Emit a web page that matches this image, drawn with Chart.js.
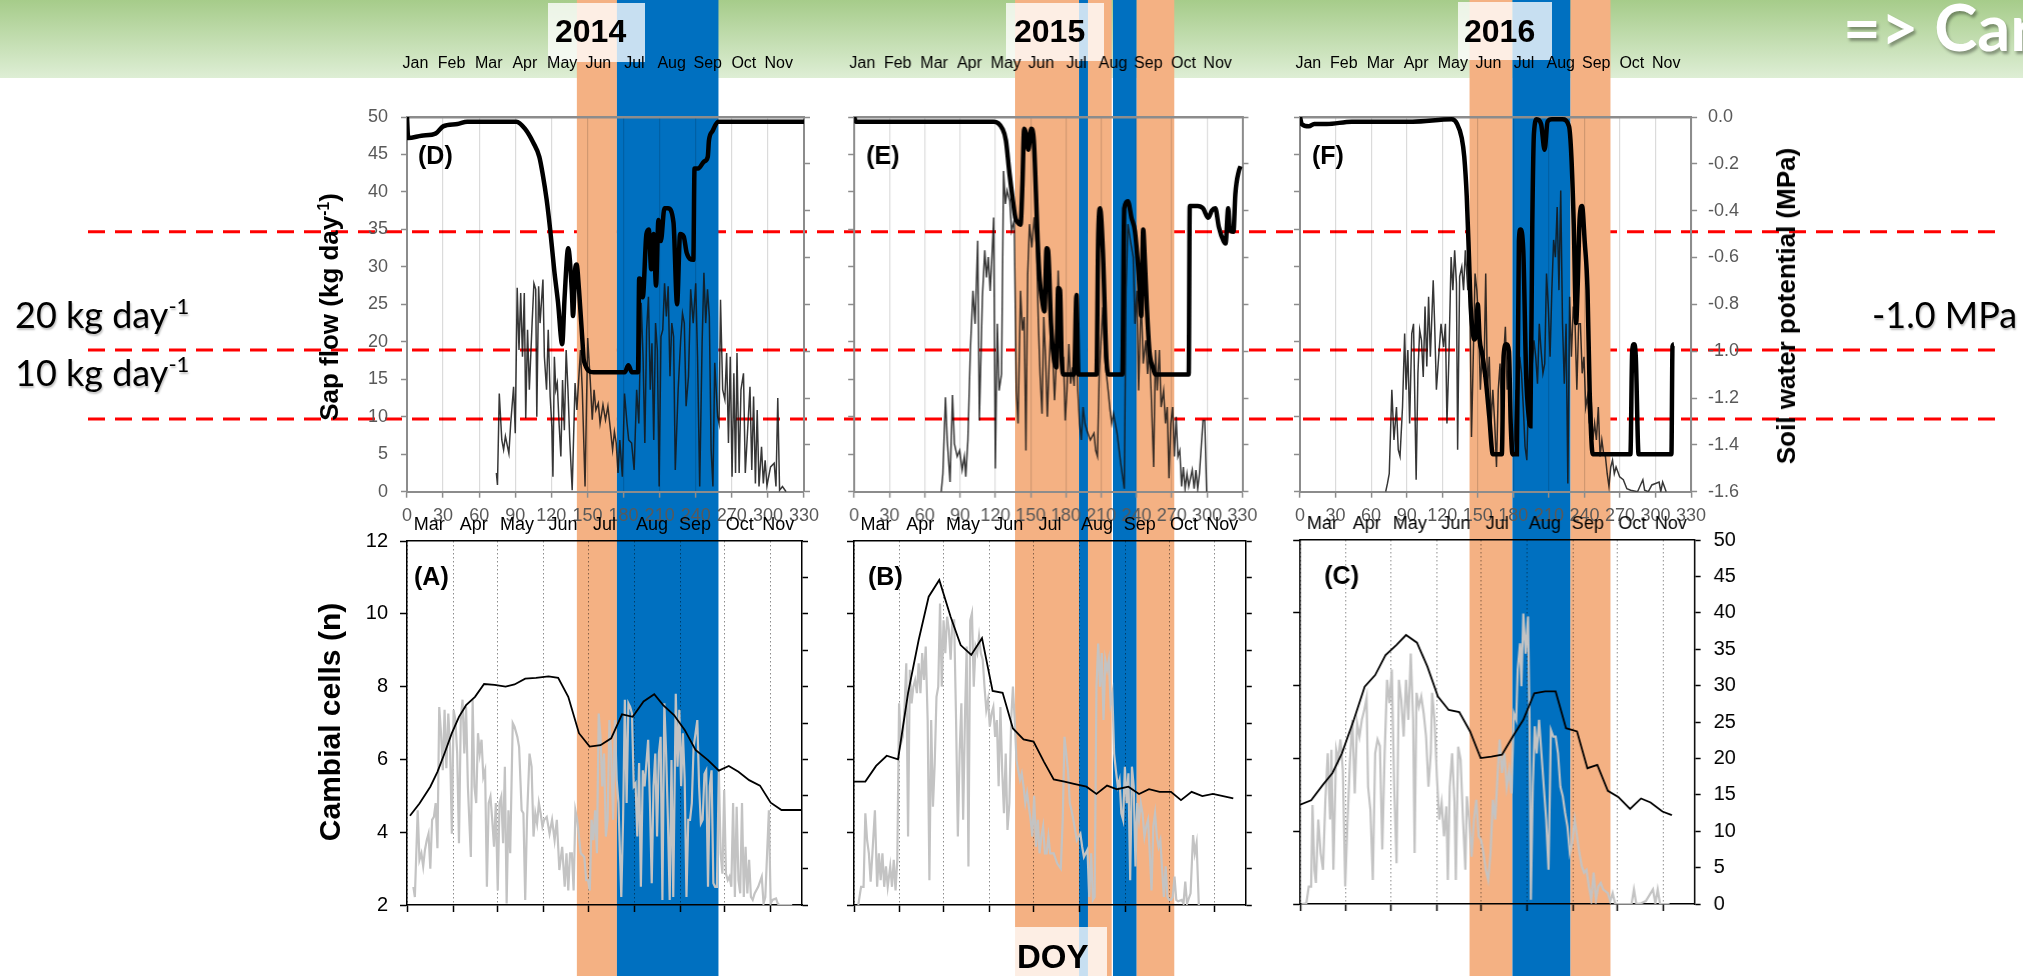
<!DOCTYPE html>
<html>
<head>
<meta charset="utf-8">
<script src="https://cdn.jsdelivr.net/npm/chart.js@4.4.0/dist/chart.umd.min.js"></script>
<style>
html, body { margin: 0; padding: 0; background: #fff; }
#page { position: relative; width: 2023px; height: 976px; overflow: hidden; font-family: "Liberation Sans", Arial, sans-serif; }
#banner { position: absolute; left: 0; top: 0; width: 2023px; height: 78px; background: linear-gradient(#a6cc8a, #deeed5); z-index: 0; }
#deco { position: absolute; left: 0; top: 0; z-index: 1; }
.box { position: absolute; background: rgba(255,255,255,0.78); z-index: 2; }
.plot { position: absolute; z-index: 3; }
.txt { position: absolute; z-index: 4; white-space: nowrap; line-height: 1; }
.rot { position: absolute; z-index: 4; white-space: nowrap; line-height: 1; font-weight: bold; transform: translate(-50%, -50%) rotate(-90deg); }
.cal { font-family: Lato, "Noto Sans", sans-serif; font-size: 36px; color: #000; text-shadow: 1px 2px 2px rgba(0,0,0,0.25); }
.cal sup { font-size: 22px; vertical-align: 14px; }
.rot sup { font-size: 60%; vertical-align: 0.55em; }
</style>
</head>
<body>
<div id="page">
  <div id="banner"></div>
  <canvas id="deco" width="2023" height="976"></canvas>

  <div class="box" style="left:548px;top:3px;width:97px;height:59px"></div>
  <div class="box" style="left:1006px;top:3px;width:98px;height:58px"></div>
  <div class="box" style="left:1458px;top:2px;width:94px;height:58px"></div>
  <div class="box" style="left:1015px;top:927px;width:92px;height:49px"></div>

  <div class="txt" style="left:555px;top:15px;font-size:32px;font-weight:bold">2014</div>
  <div class="txt" style="left:1014px;top:15px;font-size:32px;font-weight:bold">2015</div>
  <div class="txt" style="left:1464px;top:15px;font-size:32px;font-weight:bold">2016</div>
  <div class="txt" style="left:1017px;top:940px;font-size:33px;font-weight:bold">DOY</div>

  <div class="txt" style="left:1843px;top:-6px;font-family:Lato,sans-serif;font-weight:bold;font-size:65px;color:#fff;text-shadow:2px 3px 3px rgba(0,0,0,0.35)">=&gt; Car</div>

  <div class="txt cal" style="left:15px;top:295px">20 kg day<sup>-1</sup></div>
  <div class="txt cal" style="left:15px;top:353px">10 kg day<sup>-1</sup></div>
  <div class="txt cal" style="left:1872px;top:296px">-1.0 MPa</div>

  <div class="rot" style="left:329px;top:307px;font-size:26px">Sap flow (kg day<sup>-1</sup>)</div>
  <div class="rot" style="left:1786px;top:306px;font-size:26px">Soil water potential (MPa)</div>
  <div class="rot" style="left:330px;top:722px;font-size:30px">Cambial cells (n)</div>
</div>

<script>
// axis ticks and labels
const doyTicks = [0, 30, 60, 90, 120, 150, 180, 210, 240, 270, 300, 330];
const sapTicks = [0, 5, 10, 15, 20, 25, 30, 35, 40, 45, 50];
const swpTicks = [-1.6, -1.4, -1.2, -1.0, -0.8, -0.6, -0.4, -0.2, 0];
const cellTicks = [2, 4, 6, 8, 10, 12];
const bannerMonths = ["Jan", "Feb", "Mar", "Apr", "May", "Jun", "Jul", "Aug", "Sep", "Oct", "Nov"];
const bannerMonthDoy = [7, 37, 68, 98, 129, 159, 189, 220, 250, 280, 309];
const lowMonths = ["Mar", "Apr", "May", "Jun", "Jul", "Aug", "Sep", "Oct", "Nov"];
const lowMonthDoy = [75, 105, 134, 165, 193, 225, 254, 284, 310];
const monthStartDoy = [60, 91, 121, 152, 182, 213, 244, 274, 305];

// thresholds (sap flow units), red dashed lines
const thresholdSap = [34.7, 18.9, 9.7];

// dry (orange) and wet (blue) periods, DOY
const bands2014 = [[141.2, 174.5, "o"], [174.5, 258.9, "b"]];
const bands2015 = [[136.9, 191.4, "o"], [191.4, 199.0, "b"], [199.0, 219.2, "o"], [220.3, 240.5, "b"], [240.5, 272.5, "o"]];
const bands2016 = [[143.4, 179.6, "o"], [179.6, 228.6, "b"], [228.6, 262.3, "o"]];

// (D) 2014 sap flow [doy, kg/day]
const sap2014 = [[74.3,2.5],[75.2,0.9],[76.7,13.1],[78.8,6.9],[80.3,5.6],[81.8,7.4],[84.7,5.1],[86.2,9.1],[88.6,14],[90,7.8],
[91.6,27.2],[93.1,18.9],[94.5,26.5],[96,18],[97.5,26.5],[98.7,9.8],[100.2,21.6],[101.7,13.6],[104,22.5],[105.5,27.8],
[107,27],[107.9,10],[109.4,27.4],[110.6,22.5],[113,28.3],[114.2,18],[116,13.6],[117.4,21.6],[119,12.7],[120.4,8.7],
[121.3,2],[122.5,18],[123.7,13.6],[124.9,14.5],[126.4,9.1],[127.9,4.7],[129.3,14.9],[130.8,8.2],[132.3,18.9],[133.8,13.6],
[135.3,6.9],[137.3,0.2],[139.7,14.5],[141.2,10.9],[144.2,18.9],[145.7,13.6],[148,0.7],[150.2,20.5],[152.3,14.9],[154,9.6],
[155.5,13.6],[157,10.9],[159,11.8],[160.5,9.1],[162.9,11.6],[165,9.6],[167,11.4],[168.8,8.7],[170.9,5.6],[172.4,8],
[173.9,6.5],[175.4,2.5],[176.9,6.9],[179,2],[180.8,13.1],[182.9,9.1],[184.3,6.9],[186.7,6.5],[188.8,2.9],[190.9,13.6],
[192.7,9.1],[194.7,25.2],[196.2,18],[197.7,6.5],[199.2,21.6],[200.7,26],[202.2,13.6],[203.6,19.8],[205.1,6.9],[206.6,22.5],
[208.1,18.9],[209.6,0.7],[211.1,20.7],[212.6,21.6],[214.1,27.8],[215.6,23.4],[217.1,27.4],[218.6,15.4],[220.1,22.5],[221.6,20.7],
[223,2.9],[225.4,13.6],[227.5,20.3],[229,23.8],[230.5,22.5],[232,11.4],[234,15.4],[235.8,27],[237.9,22.5],[240,27.8],
[241.5,18],[243.3,0.7],[245.3,19.8],[246.8,29.2],[248.3,22.5],[249.8,27],[251.3,23.4],[252.8,5.6],[254.3,0.7],[255.8,17.2],
[258.2,10],[259.4,9.1],[260.6,25.6],[262.4,13.6],[264.2,12.3],[265.7,18.5],[267.2,6.5],[268.7,18],[270.2,2],[271.7,15.8],
[273.1,2.5],[274.3,18.5],[276.1,2.5],[277.6,13.6],[279.7,15.8],[281.2,2.5],[282.7,6.9],[285.1,14],[286.6,2.9],[288.1,12.7],
[289.6,1.1],[291.1,10.9],[292.6,0.7],[294.7,6],[296.2,1.1],[297.7,4.2],[299.2,0.8],[302.2,3.3],[305.2,3.8],[306.7,0.7],
[308.2,12.5],[309.7,0.2],[312.1,0.7],[315.1,0]];

// (D) 2014 soil water potential [doy, MPa]
const swp2014 = [[0,0],[1,-0.09],[12,-0.08],[24,-0.07],[30,-0.04],[42,-0.03],[50,-0.02],[91,-0.02],[98,-0.05],[105,-0.11],
[110,-0.17],[113,-0.25],[116,-0.35],[119,-0.48],[122.5,-0.66],[125.5,-0.79],[129,-0.97],[131,-0.77],[134,-0.56],[137,-0.74],
[138,-0.85],[140,-0.64],[141,-0.63],[143,-0.74],[146,-0.97],[147,-1.04],[155,-1.09],[181,-1.09],[184,-1.06],[187,-1.09],
[192,-1.09],[193,-0.69],[195,-0.70],[196,-0.77],[199,-0.50],[201,-0.48],[203,-0.65],[205,-0.50],[207,-0.72],[209,-0.44],
[211,-0.53],[214,-0.39],[217,-0.39],[221.5,-0.45],[224.5,-0.80],[227,-0.50],[230,-0.51],[232.5,-0.58],[238,-0.61],[239,-0.22],
[242,-0.22],[247,-0.19],[250,-0.17],[251,-0.10],[254,-0.06],[258.6,-0.02],[330,-0.02]];

// (E) 2015 sap flow
const sap2015 = [[74,0],[75.4,2.4],[77.6,12.6],[79.1,6.9],[81.5,1.3],[83.6,12.9],[85.2,6.4],[87.6,4.7],[89.7,5.5],[91.8,2.9],
[93.7,4.7],[94.9,2],[96.7,6.9],[98.8,18.9],[101,26.8],[102.8,22.4],[105,33.5],[106.4,9.5],[109,26],[111,32.2],
[112.5,28.6],[114,31.3],[115.6,26.8],[117.1,31.3],[118.6,36.6],[120,3.1],[121.7,22.4],[123.2,13.5],[125.3,15.7],[127,42.8],
[128.6,38.4],[130,40.2],[132.3,38.8],[133.8,34.8],[136,36.2],[137.8,13.5],[139.3,9.1],[141.4,26.8],[143,21.5],[144.5,23.3],
[146,5.5],[147.5,29],[149,35.7],[151,32.6],[153,36.6],[155,32.6],[156.6,22.4],[158,15.7],[159.7,10.4],[161.2,23.3],
[162.7,18],[164.2,10],[165.7,17.1],[167.3,22.4],[168.8,18],[170.3,12.2],[171.8,17.1],[173.4,29.5],[174.9,22.4],[176.4,15.7],
[177.9,18],[179.4,9.5],[180.9,13.5],[182.5,19.7],[184,14.4],[185.5,16.6],[187,14.1],[188.6,22.4],[190.1,13.5],[191.6,9.1],
[193.1,6.9],[194.6,11.3],[196.2,9.1],[197.7,8.2],[200.7,6.9],[203.8,7.8],[205.3,5.5],[206.8,4.7],[208.3,15.7],[209.8,20.2],
[211.4,24.6],[212.9,18],[214.4,15.7],[215.9,13.5],[217.5,10.9],[219,9.1],[220.5,10.4],[223.5,7.8],[226.6,3.8],[229.6,0.4],
[231.1,26.8],[232.7,35.7],[234.8,33.5],[237.2,31.3],[238.7,22.4],[240.3,26.8],[241.8,13.5],[243.9,26],[245.7,17.1],[247.9,20.2],
[249.4,15.7],[250.9,18.9],[252.4,13.5],[254.6,3.3],[256.1,18.9],[257.6,13.5],[259.4,18.9],[260.9,11.3],[263,13.5],[264.6,9.1],
[266.1,11.3],[267.6,1.8],[269.1,9.1],[270.7,11.3],[272.2,4.7],[273.7,10],[275.2,4.7],[276.8,5.5],[278.3,0.7],[279.8,3.3],
[281.3,0.4],[282.9,2.4],[284.4,0.7],[287.4,2.9],[289,0.4],[290.5,2.9],[292,0.4],[293.5,2.4],[296.5,9.5],[298,9.5],[299.6,0]];

// (E) 2015 soil water potential
const swp2015 = [[0,0],[1.5,-0.02],[118.6,-0.02],[126,-0.05],[129,-0.10],[132,-0.24],[135,-0.36],[137,-0.43],[139,-0.45],[141.4,-0.46],
[143,-0.29],[144.5,-0.05],[146,-0.07],[148,-0.14],[150.5,-0.05],[152.7,-0.10],[154.5,-0.32],[156,-0.53],[157.5,-0.68],[159.7,-0.78],
[161.8,-0.83],[163.6,-0.56],[164.8,-0.57],[167.3,-0.88],[169.7,-1.03],[171.8,-1.07],[173.4,-0.73],[175,-0.74],[176.4,-1.03],[178,-1.10],
[187,-1.10],[189,-0.76],[190.7,-1.10],[206,-1.10],[207.4,-0.53],[209,-0.39],[211.4,-0.57],[214.4,-1.03],[216.5,-1.10],[228,-1.10],
[229.6,-0.39],[232.7,-0.36],[235.7,-0.43],[238.7,-0.49],[241.8,-0.67],[244,-0.85],[245.7,-0.48],[247,-0.60],[248.8,-0.81],[251,-1.00],
[254,-1.07],[256,-1.10],[284.4,-1.10],[285.3,-0.38],[292,-0.38],[296.5,-0.39],[301,-0.43],[304,-0.40],[307,-0.39],[310,-0.47],
[314,-0.53],[315.7,-0.54],[318,-0.39],[319.3,-0.48],[322.4,-0.49],[324,-0.33],[327,-0.23],[328.5,-0.21]];

// (F) 2016 sap flow
const sap2016 = [[72.3,0],[73.8,1.1],[75.3,2.4],[77.5,13.6],[79.3,6.9],[81.4,11.3],[82.9,5.6],[84.4,4.7],[86.5,11.3],[88.3,21.1],
[89.5,13.6],[91,18.9],[92.5,9.1],[94.3,21.1],[95.8,22.4],[98,1.6],[99.5,15.8],[101,21.6],[102.5,20.2],[104,15.3],
[105.5,24.7],[107,16.7],[108.5,26],[110,18],[112.4,28.2],[113.6,22.4],[115.1,13.6],[117,18],[119,22.4],[121.2,19.3],
[122.7,22.4],[124,9.1],[125.6,17.6],[127.5,31.3],[129,26.9],[130.5,32.2],[132,27.8],[133,5.6],[134.7,28.7],[136.5,30],
[138,26.9],[139.5,32.2],[141.6,26.9],[143.1,28.7],[144.7,7.3],[146.2,18],[147.7,29.1],[149.2,26.9],[150.7,22.4],[152.2,13.6],
[153.7,18.9],[155.2,15.3],[156.7,29.1],[158.2,13.6],[159.7,18],[161.2,9.1],[162.7,13.6],[164.3,9.1],[165.8,3.3],[167.3,13.6],
[168.8,17.1],[170.3,9.1],[171.8,18],[173.3,22],[174.8,13.6],[176.3,18],[177.8,9.1],[179.3,4.7],[180.8,6.9],[182.3,13.6],
[183.9,11.3],[185.4,18],[186.9,15.8],[188.4,11.3],[189.9,6],[191.4,4.2],[192.9,13.6],[194.4,11.3],[196,17.1],[197.4,20.2],
[198.9,18],[200.4,14.4],[201.9,22.4],[203.4,18.9],[205,15.8],[206.5,17.1],[208,29.1],[209.5,24.7],[211,18],[212.5,26.9],
[214,33.6],[215.5,31.3],[217,38],[218.5,26.9],[220,40.2],[221.5,22.4],[223,14.4],[224.5,22.4],[226,1.1],[227.5,26],
[229,18],[230.6,24.7],[232.1,22.4],[233.6,13.6],[235.1,22.4],[236.6,22.4],[238.1,15.8],[239.6,18],[241.1,11.3],[242.6,12.7],
[244.1,9.1],[245.6,12.7],[247.1,6.9],[248.6,9.1],[250.1,6.9],[251.7,11.3],[253.2,4.7],[254.7,6.9],[256.2,5.1],[257.7,4.7],
[259.2,2.4],[260.7,0.7],[262.2,3.3],[263.7,4.2],[265.2,2.4],[266.7,3.3],[269.7,2],[272.8,1.6],[275.8,0.4],[279,0.2],
[284.8,0],[289.3,1.6],[290.8,0.2],[293.9,0],[296.9,0.9],[300,1.1],[303,1.3],[304.4,0],[306,1.3],[309,0]];

// (F) 2016 soil water potential
const swp2016 = [[0,0],[1.5,-0.03],[7.5,-0.04],[12,-0.03],[22.6,-0.03],[43.7,-0.02],[95,-0.02],[128,-0.01],[132.6,-0.03],[136.5,-0.09],
[138.6,-0.17],[140.7,-0.34],[142.6,-0.60],[144,-0.81],[145.6,-0.91],[147,-0.95],[148.6,-0.92],[150,-0.80],[151.6,-0.95],[153.7,-1.01],
[156.7,-1.12],[159.7,-1.28],[162.7,-1.44],[170.3,-1.44],[171.8,-1.02],[174,-0.97],[176.3,-1.00],[177.8,-1.31],[179.3,-1.44],[183,-1.44],
[184.7,-0.53],[186,-0.48],[188.4,-0.57],[190.8,-1.10],[193,-1.28],[194.4,-1.32],[196,-0.46],[197.4,-0.07],[199.8,-0.01],[203.4,-0.03],
[206.4,-0.14],[208.9,-0.02],[212.5,-0.01],[221.5,-0.01],[227,-0.04],[229,-0.17],[231,-0.46],[233,-0.88],[234.2,-0.74],[236,-0.43],
[238,-0.38],[240.2,-0.53],[242.6,-0.74],[244.4,-1.17],[247,-1.44],[278.8,-1.44],[280.3,-1.00],[281.8,-0.97],[283.3,-1.02],[285.7,-1.44],
[313.4,-1.44],[314.3,-0.98],[315.5,-0.97]];

// (A) 2014 cambial cells [doy, n]
const cells2014 = [[62,4.45],[68.4,4.79],[75.7,5.25],[80.5,5.66],[85.3,6.17],[90.2,6.72],[95,7.17],[99.8,7.49],[105.8,7.72],[111.9,8.07],
[119,8.05],[126.4,8.0],[132.4,8.06],[139.6,8.22],[146.9,8.24],[155.3,8.28],[161.8,8.24],[168.6,7.72],[175.8,6.72],[183,6.35],
[190.3,6.39],[197.5,6.58],[204.8,7.24],[212,7.17],[219.3,7.59],[226.5,7.79],[232.5,7.49],[239.8,7.22],[247,6.81],[254.3,6.26],
[262.7,5.98],[270,5.69],[276.7,5.82],[283.2,5.66],[290.4,5.43],[297.7,5.28],[304.9,4.81],[312.2,4.61],[326,4.61]];

// (A) 2014 sap flow on the right axis
const flow2014 = [[64.3,2.5],[65.3,1.1],[67.2,13],[68.4,6.2],[69.7,7.1],[70.9,5.3],[72.1,7.6],[73.3,8.9],[74.5,9.8],[75.7,5],
[76.9,11.7],[78.1,12.1],[79.3,14],[80.5,7.8],[81.7,27.2],[82.9,23.6],[84.1,18.5],[85.3,26.8],[86.5,18.8],[87.8,26.3],
[89,21.7],[90.2,9.8],[91.4,26.8],[92.6,25.4],[93.8,20.8],[95,8.5],[96.2,25.4],[97.4,28.2],[98.6,20.8],[99.8,27.2],
[101,16.3],[103,6.6],[104.2,28.2],[105.4,16.3],[106.6,14],[107.8,23.6],[109,20.8],[110.2,22.7],[111.4,17.6],[112.6,18.5],
[113.8,2.5],[115,14],[116.2,14.9],[117.4,11.7],[118.6,8],[119.8,14],[121.1,2],[122.3,14],[123.5,14.9],[124.7,8.5],
[125.9,19],[127.1,0.2],[128.3,13],[129.5,7.1],[131.2,25],[132.4,24.5],[134.3,23.1],[135.5,21.7],[137.2,13],[138.4,12.6],
[139.6,0.7],[140.8,11.7],[142.5,20.8],[143.9,19],[145.2,9.4],[146.4,12.6],[147.6,11.2],[148.8,14],[150,12.6],[151.2,10.8],
[152.4,11.7],[154.1,12.1],[156,9.8],[157.7,11.7],[159.4,8.9],[160.9,11.7],[162.6,4.8],[164.5,8],[166.2,2.5],[167.4,7.1],
[168.6,2],[169.8,7.1],[171,7.1],[172.2,2],[173.4,13],[174.6,11.7],[177,7.1],[179.4,6.6],[180.7,3.4],[181.9,3.4],
[183.1,2],[184.3,11.7],[185.5,8.9],[186.7,13],[187.9,7.1],[189.1,26.3],[190.3,23.1],[191.5,16.3],[192.7,20.8],[193.9,9.4],
[195.1,11.7],[196.3,25.4],[197.5,20.8],[198.8,11.7],[200,25.4],[201.2,17.2],[202.4,14],[204.3,1.1],[205.5,11.7],[206.7,28.2],
[207.9,14],[209.1,27.7],[210.3,27.2],[211.5,26.3],[212.7,16.3],[213.9,16.7],[215.1,9.4],[216.3,19.5],[217.5,2.5],[218.8,18.5],
[220,16.3],[221.2,19.5],[222.4,22.7],[223.6,14],[224.8,3],[226,16.3],[227.2,20.8],[228.4,9.4],[229.6,20.8],[230.8,23.1],
[232,0.7],[233.3,27.7],[234.5,20.8],[235.7,11.7],[236.9,0.7],[238.1,19.9],[239.3,1.1],[241,29],[242.2,19],[243.4,26.8],
[244.6,16.3],[245.8,23.6],[247,17.2],[248.2,1.1],[249.4,11.7],[250.6,11.7],[251.8,14],[253,21.7],[254.3,23.6],[255.5,25.4],
[256.7,16.3],[257.9,11.2],[259.1,11.7],[260.3,18],[261.5,18.5],[262.7,2.5],[263.9,16.3],[265.1,18.5],[266.3,3],[267.5,2.5],
[268.7,2.5],[270,18.5],[271.2,7.1],[272.4,4.3],[273.6,15.8],[274.8,4.3],[276,3.4],[277.2,3.9],[278.4,2.5],[279.6,14],
[280.8,1.1],[282,13.5],[283.2,3.4],[284.4,1.6],[285.6,14],[286.8,1.1],[288,8],[289.2,1.6],[290.4,6.2],[291.6,1.1],
[292.8,0.7],[294.1,1.6],[296.5,2.5],[298.9,3.9],[300.1,0.2],[301.3,1.1],[302.5,7.1],[303.7,13],[304.9,0.2],[306.1,0.7],
[308.5,0.9],[309.7,0.2],[310.9,0],[319.4,0]];

// (B) 2015 cambial cells
const cells2015 = [[60,5.39],[67.7,5.39],[75,5.82],[82.2,6.1],[89.9,6.0],[96.7,7.82],[103.9,9.28],[110.7,10.47],[117.9,10.93],[125.6,9.92],
[132.4,9.14],[139.6,8.87],[146.9,9.33],[154.1,7.88],[160.9,7.83],[167.9,6.85],[175.1,6.55],[181.9,6.49],[188.9,5.94],[195.6,5.45],
[202.9,5.39],[210.1,5.32],[217.8,5.25],[224.6,5.05],[231.8,5.28],[238.6,5.18],[246.3,5.25],[253.5,5.05],[260.3,5.18],[267.5,5.11],
[275.2,5.11],[282,4.88],[289.2,5.11],[296.5,4.99],[303.7,5.05],[317.5,4.93]];

// (B) 2015 sap flow on the right axis
const flow2015 = [[62.9,0],[64.8,2.5],[66.5,2.5],[67.7,12.6],[68.9,8.9],[70.1,7.1],[71.3,3.2],[72.5,7.1],[74.2,13],[75.7,2.5],
[76.9,7.1],[78.1,3.4],[79.3,7.1],[80.5,2.5],[81.7,5.3],[82.9,2.5],[84.6,5.3],[85.8,2.5],[87,6.2],[88.2,2],
[89.4,6.2],[90.6,27.7],[91.9,22.2],[93.1,23.1],[94.3,27.2],[95.5,33.2],[96.7,9.4],[97.9,32.3],[99.1,27.7],[100.3,30],
[101.5,30.9],[102.7,29.1],[103.9,33.2],[105.1,29.1],[106.3,34.6],[107.5,30.9],[108.7,35.5],[110,25.4],[111.2,3.4],[112.4,25.4],
[113.6,13.5],[114.8,19.4],[116,28.6],[117.2,30],[118.4,41.4],[119.6,30],[120.8,39.1],[122,34.6],[123.2,39.6],[124.4,37.8],
[125.6,33.7],[126.8,39.1],[128,39.1],[129.3,25.4],[130.5,9.4],[131.7,20.8],[132.9,27.7],[134.1,11.7],[135.3,25.4],[136.5,35.5],
[137.7,5.3],[138.9,39.1],[140.1,40.1],[141.3,30],[142.5,35.5],[143.7,34.6],[144.9,36.9],[146.1,34.6],[147.4,33.7],[148.6,30],
[149.8,26.8],[151,28.2],[152.2,24.5],[153.4,26.3],[154.6,27.2],[155.8,23.1],[157,25.4],[158.2,16.3],[159.4,27.2],[160.6,18.5],
[161.8,12.6],[163,20.8],[164.2,10.3],[165.5,14],[166.7,25.4],[167.9,30],[169.1,25.4],[170.3,19.9],[171.5,18.5],[172.7,17.2],
[173.9,18.1],[175.1,16.3],[176.3,14],[177.5,15.4],[178.7,13.5],[179.9,11.7],[181.1,9.4],[182.3,15],[183.6,8],[184.8,11.7],
[186,7.1],[187.2,9.4],[188.4,10.8],[189.6,7.1],[190.8,7.1],[192,9.4],[193.2,7.1],[195.6,7.1],[198,5.7],[200.4,5],
[201.7,11.7],[202.9,23.1],[204.1,20.8],[205.3,18.5],[206.5,14],[207.7,13],[208.9,11.7],[210.1,10.3],[211.3,8.9],[212.5,9.4],
[213.7,9.8],[214.9,8],[216.1,6.6],[217.3,7.1],[218.5,7.6],[219.7,1.1],[221,7.1],[222.2,0.7],[223.4,1.1],[224.6,30],
[225.8,35.9],[227,30],[228.2,34.6],[229.4,25.4],[230.6,33.7],[231.8,32.3],[233,33.7],[234.2,27.7],[235.4,29.1],[236.6,20.8],
[237.8,18.5],[239.1,16.3],[240.3,17.2],[241.5,12.6],[242.7,11.7],[243.9,19],[245.1,14],[246.3,18.1],[247.5,3.4],[248.7,19],
[249.9,16.3],[251.1,5.3],[252.3,14],[253.5,11.7],[254.7,14],[255.9,12.6],[257.2,9.4],[258.4,10.8],[259.6,11.7],[260.8,7.1],
[262,2],[263.2,10.8],[264.4,12.6],[265.6,9.4],[266.8,8],[268,8.9],[269.2,4.8],[270.4,1.1],[271.6,5.3],[272.8,1.1],
[274,0.7],[275.2,0.7],[276.4,1.1],[277.6,3.9],[278.8,0.7],[280.1,0.5],[282.5,0.7],[283.7,0.2],[284.9,3.2],[286.1,0.2],
[288.5,1.6],[290.2,9.6],[291.4,7.1],[292.6,8.5],[294.1,0]];

// (C) 2016 cambial cells
const cells2016 = [[60,4.73],[67.4,4.85],[75.4,5.28],[81.8,5.6],[88.2,6.14],[96.2,7.06],[103.5,7.97],[110.6,8.29],[117.6,8.84],[125,9.12],
[131.4,9.39],[138.8,9.18],[145.8,8.52],[152.9,7.7],[160.2,7.33],[167.3,7.27],[174.6,6.74],[181.7,6.01],[189,6.05],[196.1,6.1],
[203.4,6.6],[210.5,7.06],[217.9,7.79],[225.2,7.84],[232.3,7.84],[239.3,6.83],[246.7,6.74],[253.7,5.73],[260.4,5.82],[267.5,5.11],
[274.5,4.94],[282.5,4.61],[289.9,4.9],[296.3,4.79],[304.3,4.54],[310.7,4.44]];

// (C) 2016 sap flow on the right axis
const flow2016 = [[61,0],[64.2,0.1],[65.8,2.4],[67.4,2.4],[68.3,13.6],[69.6,4.7],[70.6,2.9],[72.2,11.6],[73.8,7],[75.4,4.7],
[77,14.3],[78.6,20.7],[80.2,11.6],[81.1,21.2],[82.4,4.7],[84.3,21.2],[85.6,19.8],[87.2,22.6],[88.8,18.4],[90.4,2.4],
[92,11.6],[93.6,19.8],[95.2,25.3],[96.8,15.2],[98.4,24.8],[100,23],[101.6,25.3],[103.2,26.6],[104.8,28.3],[105.8,16.1],
[107.4,12.9],[109,3.3],[110.6,20.7],[112.2,22.6],[113.8,21.7],[115.4,7.5],[117,20.7],[118.6,30.8],[120.2,27.6],[121.8,32.2],
[123.4,16.1],[125,5.6],[126.6,30.8],[128.2,28],[129.8,23],[131.4,30.8],[133,25.3],[134.6,34.4],[136.2,25.3],[137.2,7],
[138.5,29],[140.1,27.1],[141.7,28.5],[143.3,26.2],[144.9,23],[146.5,16.1],[148.1,20.7],[149,29],[150.6,25.3],[152.2,17.5],
[153.8,11.6],[155.4,13.9],[157,9.3],[158.6,13.4],[159.6,3.3],[160.9,16.1],[162.5,20.7],[164.1,13.9],[165,3.3],[166.6,21.6],
[168.2,19.8],[169.8,11.6],[171.4,4.7],[172.4,14.8],[174,11.6],[175.6,6.5],[177.2,11.6],[178.8,14.3],[180.4,9.3],[182,8.8],
[183.6,7],[185.2,4.7],[186.8,3.3],[188.4,7],[190,14.3],[191.6,11.6],[193.2,18],[194.5,22.6],[196.1,18],[197.7,20.7],
[199.3,16.1],[200.9,18.4],[202.5,15.2],[204.1,26.2],[205.7,25.3],[206.7,32.2],[208.3,35.8],[209.2,29.9],[210.5,39.9],[212.1,34.4],
[213.7,39.5],[214.7,25.3],[215.6,0.6],[216.9,16.1],[218.2,24.4],[219.5,20.7],[221.1,25.3],[222.7,20.7],[224.3,16.1],[225.9,11.6],
[227.5,4.7],[229.1,23.9],[230.7,23],[232.3,23],[233.9,20.7],[235.5,16.1],[237.1,14.8],[238.7,12.5],[240.3,10.6],[241.9,7],
[243.5,8.4],[245.1,11.6],[246.7,9.3],[248.3,7],[249.9,5.2],[251.5,4.3],[253.1,4.7],[254.7,2.4],[256.3,0.6],[257.9,4.3],
[259.5,0.6],[261.1,2.4],[262.7,2.9],[264.3,2],[267.5,1.5],[269.1,0.4],[270.7,1.5],[272.3,0.1],[273.9,0],[283.5,0],
[285.1,2],[286.7,0],[289.9,0.1],[293.1,0.4],[297.9,2],[299.5,0.1],[301.1,2],[302.7,0],[309.1,0]];

Chart.defaults.font.family = '"Liberation Sans", Arial, sans-serif';

const gray = "#8c8c8c";
const page = document.getElementById("page");

function place(left, top, width, height) {
    const div = document.createElement("div");
    div.className = "plot";
    div.style.left = left + "px";
    div.style.top = top + "px";
    div.style.width = width + "px";
    div.style.height = height + "px";
    const c = document.createElement("canvas");
    div.appendChild(c);
    page.appendChild(div);
    return c;
}

const toXY = arr => arr.map(p => ({x: p[0], y: p[1]}));
const fixTicks = list => s => { s.ticks = list.map(v => ({value: v})); };

const panelTag = {
    id: "panelTag",
    afterDraw(chart, args, opts) {
        const {ctx, chartArea} = chart;
        ctx.save();
        ctx.font = 'bold 25px "Liberation Sans", Arial';
        ctx.fillStyle = "#000";
        ctx.textBaseline = "middle";
        ctx.fillText(opts.text, chartArea.left + opts.dx, chartArea.top + opts.dy);
        ctx.restore();
    }
};

// top row: sap flow + soil water potential
function topChart(box, sap, swp, tag, leftLabels, rightLabels) {
    const top = 45, bottom = 530;
    const canvas = place(box.L - 100, top, box.R - box.L + 200, bottom - top);
    const chart = new Chart(canvas, {
        type: "line",
        data: {
            datasets: [
                {data: toXY(swp), yAxisID: "y2", borderColor: "#000", borderWidth: 4.5, cubicInterpolationMode: "monotone", order: 0},
                {data: toXY(sap), yAxisID: "y", borderColor: "rgba(20,20,20,0.85)", borderWidth: 1.5, order: 1}
            ]
        },
        options: {
            animation: false,
            responsive: true,
            maintainAspectRatio: false,
            layout: {padding: 0, autoPadding: false},
            elements: {point: {radius: 0}, line: {tension: 0}},
            plugins: {legend: {display: false}, tooltip: {enabled: false}, panelTag: tag},
            scales: {
                x: {
                    type: "linear", min: 0, max: 330,
                    afterBuildTicks: fixTicks(doyTicks),
                    afterFit: s => { s.height = bottom - box.B; },
                    grid: {color: "rgba(0,0,0,0.14)", lineWidth: 1.2, tickColor: gray, tickLength: 6, tickWidth: 1.5},
                    border: {color: gray, width: 2},
                    ticks: {color: "#595959", font: {size: 18}, padding: 8, maxRotation: 0, autoSkip: false}
                },
                x2: {
                    type: "linear", position: "top", min: 0, max: 330,
                    afterBuildTicks: fixTicks(bannerMonthDoy),
                    afterFit: s => { s.height = box.T - top; },
                    grid: {display: false, drawTicks: false},
                    border: {color: gray, width: 2.5},
                    ticks: {color: "#000", font: {size: 16}, padding: 44, maxRotation: 0, autoSkip: false,
                            callback: (v, i) => bannerMonths[i]}
                },
                y: {
                    type: "linear", position: "left", min: 0, max: 50,
                    afterBuildTicks: fixTicks(sapTicks),
                    afterFit: s => { s.width = 100; },
                    grid: {drawOnChartArea: false, tickColor: gray, tickLength: 6, tickWidth: 1.5},
                    border: {color: gray, width: 2},
                    ticks: {display: leftLabels, color: "#595959", font: {size: 18}, padding: 13}
                },
                y2: {
                    type: "linear", position: "right", min: -1.6, max: 0,
                    afterBuildTicks: fixTicks(swpTicks),
                    afterFit: s => { s.width = 100; },
                    grid: {drawOnChartArea: false, tickColor: gray, tickLength: 6, tickWidth: 1.5},
                    border: {color: gray, width: 2},
                    ticks: {display: rightLabels, color: "#595959", font: {size: 18}, padding: 11,
                            callback: v => v.toFixed(1)}
                }
            }
        },
        plugins: [panelTag]
    });
    chart.offsetX = box.L - 100;
    chart.offsetY = top;
    return chart;
}

// bottom row: cambial cells + sap flow
function lowChart(box, cells, flow, tag, leftLabels, rightLabels) {
    const top = 495, bottom = 960;
    const canvas = place(box.L - 100, top, box.R - box.L + 200, bottom - top);
    return new Chart(canvas, {
        type: "line",
        data: {
            datasets: [
                {data: toXY(cells), yAxisID: "y", borderColor: "#000", borderWidth: 1.8, order: 0},
                {data: toXY(flow), yAxisID: "y2", borderColor: "#c3c3c3", borderWidth: 2.2, order: 1}
            ]
        },
        options: {
            animation: false,
            responsive: true,
            maintainAspectRatio: false,
            layout: {padding: 0, autoPadding: false},
            elements: {point: {radius: 0}, line: {tension: 0}},
            plugins: {legend: {display: false}, tooltip: {enabled: false}, panelTag: tag},
            scales: {
                x: {
                    type: "linear", min: 60, max: 326,
                    afterBuildTicks: fixTicks(monthStartDoy),
                    afterFit: s => { s.height = bottom - box.B; },
                    grid: {color: "rgba(0,0,0,0.45)", lineWidth: 1, tickColor: "#000", tickLength: 7, tickWidth: 1.5},
                    border: {color: "#000", width: 1.5, dash: [1.5, 2.5]},
                    ticks: {display: false}
                },
                x2: {
                    type: "linear", position: "top", min: 60, max: 326,
                    afterBuildTicks: fixTicks(lowMonthDoy),
                    afterFit: s => { s.height = box.T - top; },
                    grid: {display: false, drawTicks: false},
                    border: {color: "#000", width: 1.5},
                    ticks: {color: "#000", font: {size: 18}, padding: 5, maxRotation: 0, autoSkip: false,
                            callback: (v, i) => lowMonths[i]}
                },
                y: {
                    type: "linear", position: "left", min: 2, max: 12,
                    afterBuildTicks: fixTicks(cellTicks),
                    afterFit: s => { s.width = 100; },
                    grid: {drawOnChartArea: false, tickColor: "#000", tickLength: 7, tickWidth: 1.5},
                    border: {color: "#000", width: 1.5},
                    ticks: {display: leftLabels, color: "#000", font: {size: 20}, padding: 12}
                },
                y2: {
                    type: "linear", position: "right", min: 0, max: 50,
                    afterBuildTicks: fixTicks(sapTicks),
                    afterFit: s => { s.width = 100; },
                    grid: {drawOnChartArea: false, tickColor: "#000", tickLength: 6, tickWidth: 1.5},
                    border: {color: "#000", width: 1.5},
                    ticks: {display: rightLabels, color: "#000", font: {size: 20}, padding: 13}
                }
            }
        },
        plugins: [panelTag]
    });
}

const topD = topChart({L: 407, R: 804, T: 117, B: 491.7}, sap2014, swp2014, {text: "(D)", dx: 11, dy: 40}, true, false);
const topE = topChart({L: 854.3, R: 1241.8, T: 117, B: 491.7}, sap2015, swp2015, {text: "(E)", dx: 12, dy: 40}, false, false);
const topF = topChart({L: 1299.6, R: 1690.7, T: 117, B: 491.7}, sap2016, swp2016, {text: "(F)", dx: 12, dy: 40}, false, true);

lowChart({L: 407, R: 802, T: 541, B: 905}, cells2014, flow2014, {text: "(A)", dx: 7, dy: 37}, true, false);
lowChart({L: 853.6, R: 1245.4, T: 541, B: 905}, cells2015, flow2015, {text: "(B)", dx: 14, dy: 37}, false, false);
lowChart({L: 1300, R: 1693.7, T: 540, B: 904}, cells2016, flow2016, {text: "(C)", dx: 24, dy: 37}, false, true);

// background decoration: red threshold lines, then the coloured periods
const deco = document.getElementById("deco").getContext("2d");
deco.strokeStyle = "#ff0000";
deco.lineWidth = 3;
deco.setLineDash([17, 10]);
thresholdSap.forEach(v => {
    const y = topD.offsetY + topD.scales.y.getPixelForValue(v);
    deco.beginPath();
    deco.moveTo(88, y);
    deco.lineTo(1998, y);
    deco.stroke();
});

const bandColor = {o: "#f4b183", b: "#0070c0"};
[[topD, bands2014], [topE, bands2015], [topF, bands2016]].forEach(([ch, bands]) => {
    bands.forEach(b => {
        const x0 = ch.offsetX + ch.scales.x.getPixelForValue(b[0]);
        const x1 = ch.offsetX + ch.scales.x.getPixelForValue(b[1]);
        deco.fillStyle = bandColor[b[2]];
        deco.fillRect(x0, 0, x1 - x0, 976);
    });
});
</script>
</body>
</html>
